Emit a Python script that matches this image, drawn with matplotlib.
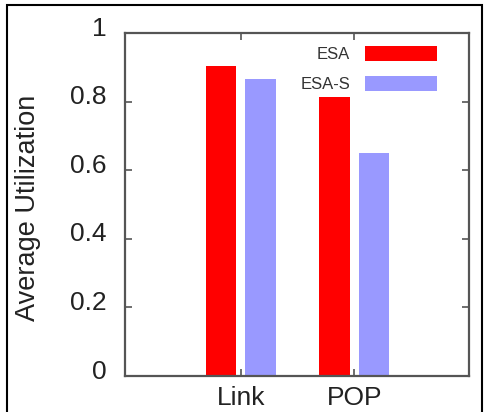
import matplotlib
matplotlib.use('Agg')
import matplotlib.pyplot as plt
from matplotlib.patches import Rectangle
from matplotlib.transforms import ScaledTranslation
import numpy as np

# data
categories = ['Link', 'POP']
esa = [0.904, 0.813]
esa_s = [0.866, 0.650]
series_names = ['ESA', 'ESA-S']

plt.rcParams['font.family'] = ['Liberation Sans', 'DejaVu Sans']

fig = plt.figure(figsize=(4.84, 4.12), dpi=100)
ax = fig.add_axes([125 / 484, 1 - 376 / 412, 344 / 484, 343 / 412])

x = np.arange(len(categories))
w = 0.27
ax.bar(x - 0.173, esa, w, color='#ff0000', label=series_names[0])
ax.bar(x + 0.173, esa_s, w, color='#9999ff', label=series_names[1])

ax.set_xlim(-1.02, 2.01)
ax.set_ylim(0, 1)
ax.set_xticks(x)
ax.set_xticklabels(categories)
ax.set_yticks([0, 0.2, 0.4, 0.6, 0.8, 1.0])
ax.set_yticklabels(['0', '0.2', '0.4', '0.6', '0.8', '1'])
ax.tick_params(direction='in', length=5, width=1.2, color='#555555',
               labelsize=19, labelcolor='#222222', top=True, right=True)
ax.tick_params(axis='y', pad=13)
ax.tick_params(axis='x', pad=7)
for lab in ax.get_yticklabels():
    lab.set_transform(lab.get_transform() + ScaledTranslation(0, 5 / 72, fig.dpi_scale_trans))
for s in ax.spines.values():
    s.set_color('#555555')
    s.set_linewidth(1.6)

ax.set_ylabel('Average Utilization', fontsize=19.5, color='#222222')
ax.yaxis.set_label_coords(-0.245, 0.49)

leg = ax.legend(loc='upper right', bbox_to_anchor=(0.907, 0.963), frameon=False,
                markerfirst=False, fontsize=12, handlelength=4.3, handleheight=1.0,
                handletextpad=0.9, labelspacing=0.85, borderpad=0, borderaxespad=0)
for t in leg.get_texts():
    t.set_color('#333333')

fig.patches.append(Rectangle((7 / 484, -0.01), 475 / 484, 1 - 5 / 412 + 0.01,
                             transform=fig.transFigure, fill=False,
                             edgecolor='black', linewidth=1.5))

fig.savefig('out.png', dpi=100)
